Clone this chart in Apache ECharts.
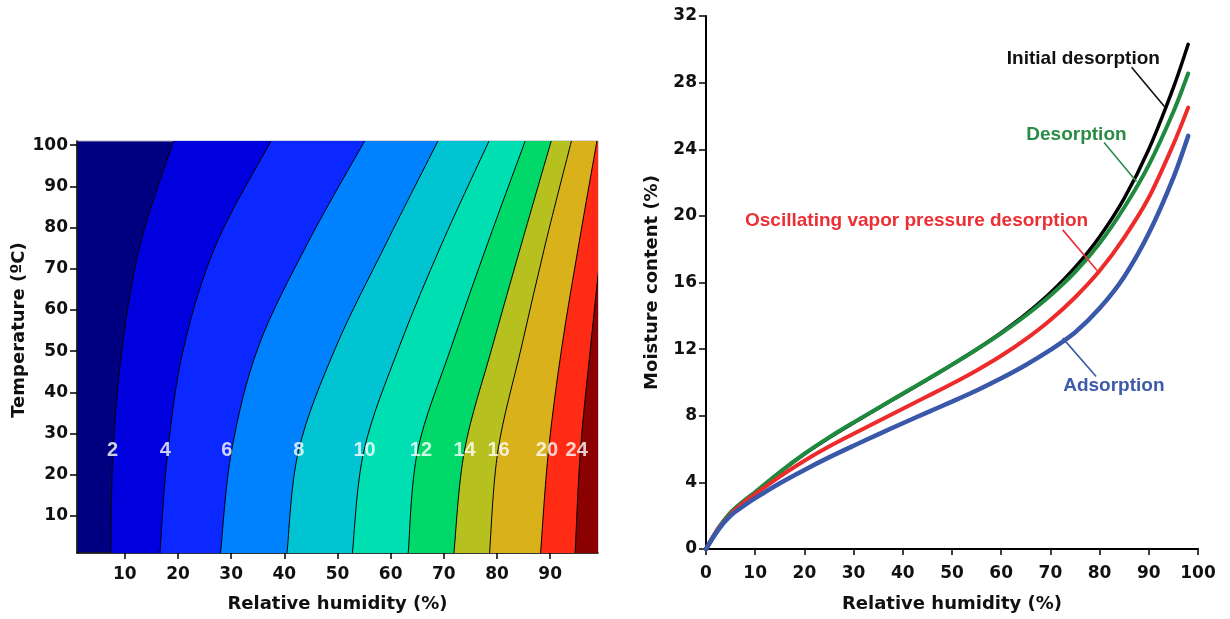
<!DOCTYPE html>
<html>
<head>
<meta charset="utf-8">
<script src="https://cdn.jsdelivr.net/npm/echarts@6/dist/echarts.min.js"></script>
<style>
  html, body { margin: 0; padding: 0; background: #fff; }
  #chart { width: 1230px; height: 619px; }
</style>
</head>
<body>
<div id="chart"></div>
<script>
// left panel: moisture content contours (RH of each contour line, read at these temperatures)
const tempLevels = [1, 26, 51, 76, 101];
const contourLevels = [2, 4, 6, 8, 10, 12, 14, 16, 20, 24];
const contour2 = [7.35, 7.79, 9.5, 12.9, 19.15];
const contour4 = [16.6, 18.1, 21.1, 27.2, 37.5];
const contour6 = [28.0, 30.1, 35.1, 44.3, 55.1];
const contour8 = [40.5, 42.7, 49.7, 59.1, 68.9];
const contour10 = [52.8, 55.0, 61.6, 69.6, 78.5];
const contour12 = [63.3, 65.1, 71.4, 78.2, 85.3];
const contour14 = [71.9, 73.9, 79.1, 84.6, 90.2];
const contour16 = [78.6, 80.2, 84.6, 89.1, 94.0];
const contour20 = [88.2, 89.7, 92.2, 95.4, 98.8];
const contour24 = [94.7, 95.7, 97.6, 99.7, 102.5];
const contourRH = [contour2, contour4, contour6, contour8, contour10, contour12, contour14, contour16, contour20, contour24];
const labelRH = [7.7, 17.6, 29.2, 42.7, 55.1, 65.7, 73.9, 80.3, 89.4, 95.0];
const labelTemp = 26;
const rhTicks = [10, 20, 30, 40, 50, 60, 70, 80, 90];
const tempTicks = [10, 20, 30, 40, 50, 60, 70, 80, 90, 100];

// right panel: sorption isotherms
const rhPoints = [0, 2.5, 5, 7.5, 10, 15, 20, 25, 30, 35, 40, 45, 50, 55, 60, 65, 70, 75, 80, 85, 90, 95, 98];
const initialDesorption = [0, 1.24, 2.18, 2.83, 3.4, 4.6, 5.7, 6.68, 7.58, 8.45, 9.31, 10.17, 11.06, 11.99, 12.99, 14.1, 15.38, 16.9, 18.75, 21.05, 24.0, 27.7, 30.3];
const desorption = [0, 1.25, 2.2, 2.85, 3.42, 4.62, 5.72, 6.7, 7.6, 8.47, 9.33, 10.19, 11.07, 11.98, 12.95, 14.02, 15.22, 16.62, 18.35, 20.5, 23.05, 26.25, 28.55];
const oscillating = [0, 1.2, 2.1, 2.75, 3.3, 4.35, 5.3, 6.15, 6.92, 7.67, 8.42, 9.17, 9.92, 10.72, 11.6, 12.6, 13.75, 15.1, 16.7, 18.7, 21.1, 24.3, 26.5];
const adsorption = [0, 1.15, 2.0, 2.55, 3.05, 3.95, 4.75, 5.5, 6.2, 6.88, 7.55, 8.2, 8.85, 9.52, 10.25, 11.05, 11.95, 13.0, 14.45, 16.35, 18.95, 22.3, 24.8];

const bandColors = ['#000080', '#0000de', '#0a28ff', '#0082ff', '#00c4d2', '#00dfb2', '#00d86a', '#b6c11f', '#d9b11b', '#ff2b14', '#8b0000'];

const tickFont = { fontFamily: 'DejaVu Sans', fontWeight: 'bold', fontSize: 17, color: '#111' };
const nameFont = { fontFamily: 'DejaVu Sans', fontWeight: 'bold', fontSize: 18, color: '#111' };
const noteFont = 'Liberation Sans';

// catmull-rom through the read points, drawn as bezier segments
function curvePath(pts) {
  let d = 'M' + pts[0][0] + ',' + pts[0][1];
  for (let i = 0; i < pts.length - 1; i++) {
    const p0 = pts[Math.max(i - 1, 0)], p1 = pts[i], p2 = pts[i + 1], p3 = pts[Math.min(i + 2, pts.length - 1)];
    const c1x = p1[0] + (p2[0] - p0[0]) / 6, c1y = p1[1] + (p2[1] - p0[1]) / 6;
    const c2x = p2[0] - (p3[0] - p1[0]) / 6, c2y = p2[1] - (p3[1] - p1[1]) / 6;
    d += 'C' + c1x + ',' + c1y + ',' + c2x + ',' + c2y + ',' + p2[0] + ',' + p2[1];
  }
  return d;
}

function renderBand(params, api) {
  const k = api.value(2);
  const pts = tempLevels.map((t, i) => api.coord([contourRH[k][i], t]));
  const cs = params.coordSys;
  const line = curvePath(pts);
  const farX = cs.x + cs.width + 60;
  const fill = line + 'L' + farX + ',' + pts[pts.length - 1][1] + 'L' + farX + ',' + pts[0][1] + 'Z';
  return {
    type: 'group',
    children: [
      { type: 'path', shape: { pathData: fill }, style: { fill: bandColors[k + 1], stroke: null } },
      { type: 'path', shape: { pathData: line }, style: { fill: 'none', stroke: '#000', lineWidth: 1 } }
    ]
  };
}

const notes = [
  { text: 'Initial desorption', color: '#111111', at: [76.7, 29.46], from: [86.5, 28.92], to: [93.3, 26.52] },
  { text: 'Desorption', color: '#2a8b45', at: [75.3, 24.86], from: [80.9, 24.4], to: [87.5, 22.06] },
  { text: 'Oscillating vapor pressure desorption', color: '#ec2f35', at: [42.8, 19.7], from: [72.5, 19.16], to: [79.5, 16.72] },
  { text: 'Adsorption', color: '#3d5ba9', at: [82.9, 9.8], from: [79.3, 10.36], to: [72.5, 12.66] }
];

function isotherm(name, values, color, width, note) {
  return {
    name: name,
    type: 'line',
    xAxisIndex: 1,
    yAxisIndex: 1,
    data: rhPoints.map((x, i) => [x, values[i]]),
    smooth: 0.3,
    showSymbol: false,
    lineStyle: { color: color, width: width, cap: 'round' },
    itemStyle: { color: color },
    markLine: {
      silent: true,
      symbol: ['none', 'none'],
      label: { show: false },
      lineStyle: { color: note.color, width: 1.6, type: 'solid' },
      data: [[{ coord: note.from }, { coord: note.to }]]
    },
    markPoint: {
      silent: true,
      symbol: 'circle',
      symbolSize: 0,
      label: {
        show: true, position: 'inside', formatter: '{b}',
        color: note.color, fontFamily: noteFont, fontWeight: 'bold', fontSize: 19
      },
      data: [{ name: note.text, coord: note.at }]
    }
  };
}

const chart = echarts.init(document.getElementById('chart'));
chart.setOption({
  animation: false,
  backgroundColor: '#fff',
  grid: [
    { left: 77, top: 141, width: 521, height: 412, show: true, backgroundColor: bandColors[0], borderColor: '#a8aebb', borderWidth: 1, outerBoundsMode: 'none' },
    { left: 706, top: 16, width: 492, height: 533, outerBoundsMode: 'none' }
  ],
  xAxis: [
    {
      gridIndex: 0, type: 'value', min: 1, max: 99,
      axisLine: { show: true, lineStyle: { color: '#000', width: 1.5 } },
      axisTick: { show: true, customValues: rhTicks, length: 6, lineStyle: { color: '#000', width: 1.5 } },
      axisLabel: Object.assign({ customValues: rhTicks, margin: 13 }, tickFont),
      splitLine: { show: false },
      name: 'Relative humidity (%)', nameLocation: 'middle', nameGap: 42, nameTextStyle: nameFont
    },
    {
      gridIndex: 1, type: 'value', min: 0, max: 100, interval: 10,
      axisLine: { show: true, lineStyle: { color: '#000', width: 2 } },
      axisTick: { show: true, length: 6, lineStyle: { color: '#000', width: 1.5 } },
      axisLabel: Object.assign({ margin: 16 }, tickFont),
      splitLine: { show: false },
      name: 'Relative humidity (%)', nameLocation: 'middle', nameGap: 46, nameTextStyle: nameFont
    }
  ],
  yAxis: [
    {
      gridIndex: 0, type: 'value', min: 1, max: 101,
      axisLine: { show: true, lineStyle: { color: '#000', width: 1.5 } },
      axisTick: { show: true, customValues: tempTicks, length: 7, lineStyle: { color: '#000', width: 1.5 } },
      axisLabel: Object.assign({ customValues: tempTicks, margin: 9 }, tickFont),
      splitLine: { show: false },
      name: 'Temperature (ºC)', nameLocation: 'middle', nameGap: 48,
      nameTextStyle: Object.assign({ padding: [0, 0, 0, 34] }, nameFont)
    },
    {
      gridIndex: 1, type: 'value', min: 0, max: 32, interval: 4,
      axisLine: { show: true, lineStyle: { color: '#000', width: 2 } },
      axisTick: { show: true, length: 7, lineStyle: { color: '#000', width: 1.5 } },
      axisLabel: Object.assign({ margin: 9 }, tickFont),
      splitLine: { show: false },
      name: 'Moisture content (%)', nameLocation: 'middle', nameGap: 45, nameTextStyle: nameFont
    }
  ],
  series: [
    {
      type: 'custom',
      xAxisIndex: 0,
      yAxisIndex: 0,
      clip: true,
      silent: true,
      renderItem: renderBand,
      encode: { x: 0, y: 1 },
      data: contourLevels.map((lv, k) => [50, 50, k])
    },
    {
      type: 'scatter',
      xAxisIndex: 0,
      yAxisIndex: 0,
      silent: true,
      symbol: 'circle',
      symbolSize: 1,
      itemStyle: { color: 'rgba(0,0,0,0)' },
      z: 5,
      label: {
        show: true, position: 'inside',
        formatter: (p) => String(p.value[2]),
        color: '#fff', fontFamily: noteFont, fontWeight: 'bold', fontSize: 20
      },
      data: labelRH.map((rh, k) => [rh, labelTemp, contourLevels[k]])
    },
    isotherm('Initial desorption', initialDesorption, '#000000', 3.5, notes[0]),
    isotherm('Desorption', desorption, '#1e8a3e', 4, notes[1]),
    isotherm('Oscillating vapor pressure desorption', oscillating, '#ee2b2b', 4, notes[2]),
    isotherm('Adsorption', adsorption, '#3a58aa', 4.5, notes[3])
  ]
});
</script>
</body>
</html>
